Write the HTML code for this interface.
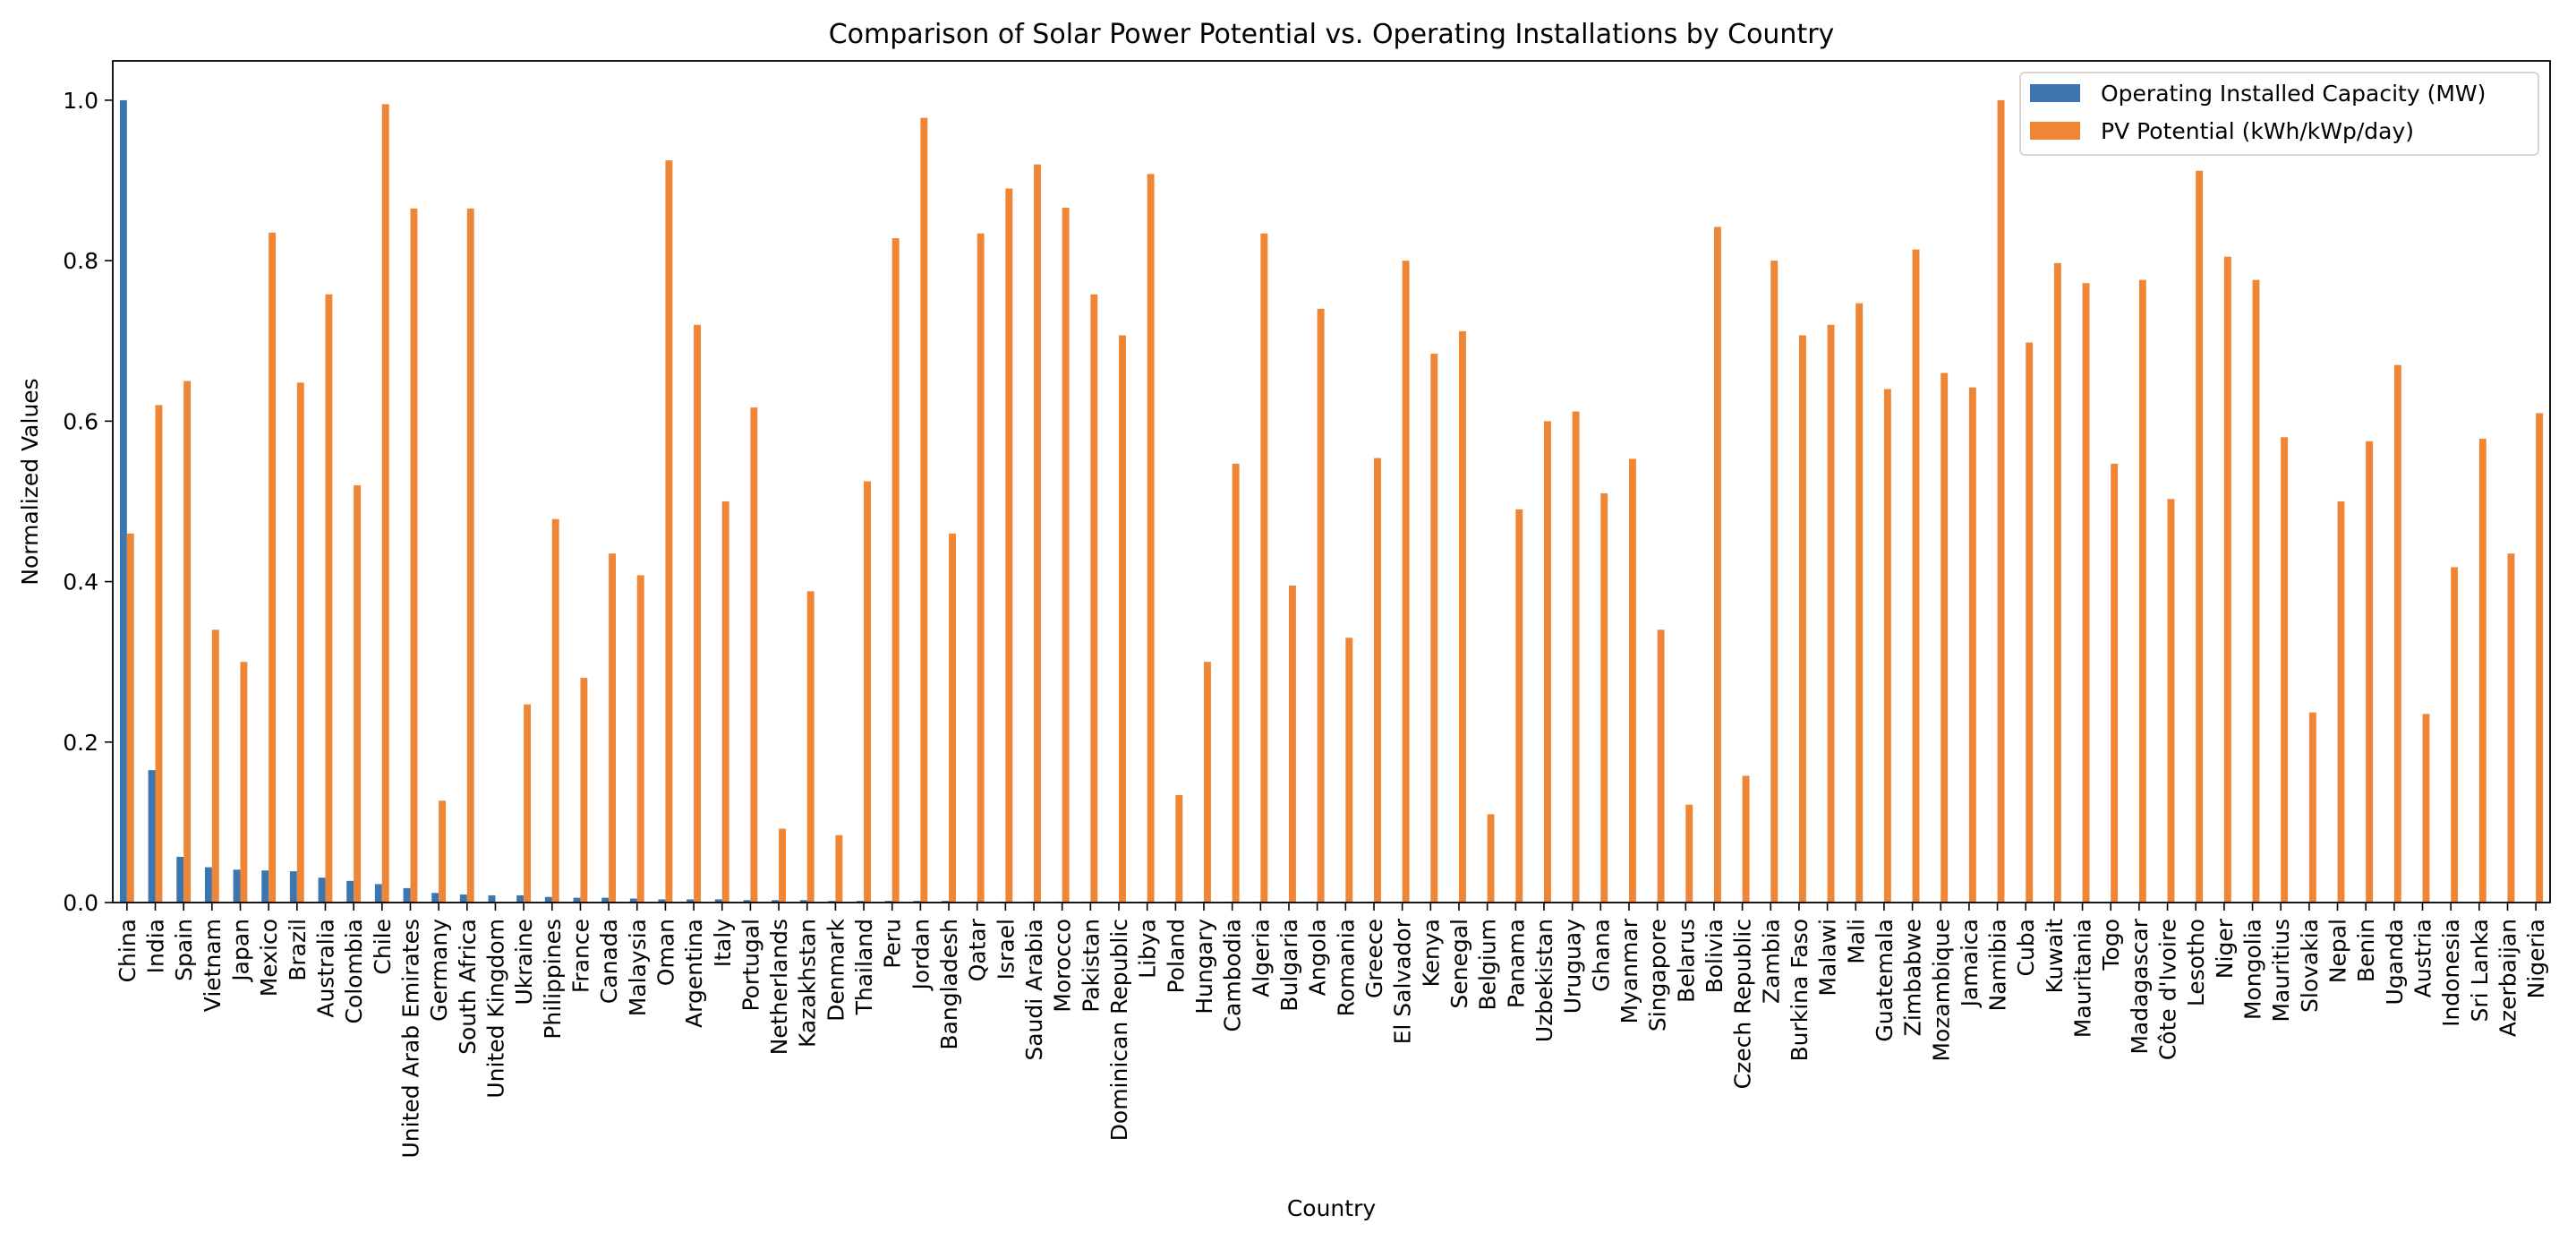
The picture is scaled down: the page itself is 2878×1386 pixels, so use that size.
<!DOCTYPE html>
<html><head><meta charset="utf-8"><style>
html,body{margin:0;padding:0;background:#fff;}
svg{display:block;font-family:"DejaVu Sans","Liberation Sans",sans-serif;}
</style></head><body>
<svg id="chart" width="2878" height="1386" viewBox="0 0 2878 1386" xmlns="http://www.w3.org/2000/svg">
<rect width="2878" height="1386" fill="#fff"/>
<g id="plot"></g>
</svg>
<script>
const categories = ["China","India","Spain","Vietnam","Japan","Mexico","Brazil","Australia","Colombia","Chile","United Arab Emirates","Germany","South Africa","United Kingdom","Ukraine","Philippines","France","Canada","Malaysia","Oman","Argentina","Italy","Portugal","Netherlands","Kazakhstan","Denmark","Thailand","Peru","Jordan","Bangladesh","Qatar","Israel","Saudi Arabia","Morocco","Pakistan","Dominican Republic","Libya","Poland","Hungary","Cambodia","Algeria","Bulgaria","Angola","Romania","Greece","El Salvador","Kenya","Senegal","Belgium","Panama","Uzbekistan","Uruguay","Ghana","Myanmar","Singapore","Belarus","Bolivia","Czech Republic","Zambia","Burkina Faso","Malawi","Mali","Guatemala","Zimbabwe","Mozambique","Jamaica","Namibia","Cuba","Kuwait","Mauritania","Togo","Madagascar","Côte d'Ivoire","Lesotho","Niger","Mongolia","Mauritius","Slovakia","Nepal","Benin","Uganda","Austria","Indonesia","Sri Lanka","Azerbaijan","Nigeria"];
const capacity = [1.0,0.165,0.057,0.044,0.041,0.040,0.039,0.031,0.027,0.023,0.018,0.012,0.010,0.009,0.009,0.007,0.006,0.006,0.005,0.004,0.004,0.004,0.003,0.003,0.003,0.002,0.002,0.002,0.002,0.002,0.001,0.001,0.001,0.001,0.001,0.001,0.001,0.001,0.001,0.001,0.001,0.001,0.001,0.001,0.001,0.001,0.001,0.0005,0.0005,0.0005,0.0005,0.0005,0.0005,0.0005,0.0005,0.0005,0.0005,0.0005,0.0005,0.0005,0.0005,0.0005,0.0005,0.0005,0.0005,0.0005,0.0005,0.0005,0.0005,0.0005,0.0005,0.0005,0.0005,0.0005,0.0005,0.0005,0.0005,0.0005,0.0005,0.0005,0.0005,0.0005,0.0005,0.0005,0.0005,0.0005];
const pvPotential = [0.46,0.62,0.65,0.34,0.30,0.835,0.648,0.758,0.52,0.995,0.865,0.127,0.865,0,0.247,0.478,0.28,0.435,0.408,0.925,0.72,0.50,0.617,0.092,0.388,0.084,0.525,0.828,0.978,0.46,0.834,0.89,0.92,0.866,0.758,0.707,0.908,0.134,0.30,0.547,0.834,0.395,0.74,0.33,0.554,0.80,0.684,0.712,0.11,0.49,0.60,0.612,0.51,0.553,0.34,0.122,0.842,0.158,0.80,0.707,0.72,0.747,0.64,0.814,0.66,0.642,1.0,0.698,0.797,0.772,0.547,0.776,0.503,0.912,0.805,0.776,0.58,0.237,0.50,0.575,0.67,0.235,0.418,0.578,0.435,0.61];
const yTicks = [0.0,0.2,0.4,0.6,0.8,1.0];
const yTickLabels = ["0.0","0.2","0.4","0.6","0.8","1.0"];

const NS="http://www.w3.org/2000/svg";
const L=126,R=2849,T=68,B=1008,YMAX=1.049;
const n=categories.length, step=(R-L)/n;
const xPos=i=>L+(i+0.5)*step;
const yPos=v=>B-(v/YMAX)*(B-T);
const g=document.getElementById('plot');
function mk(tag,attrs){const e=document.createElementNS(NS,tag);for(const k in attrs)e.setAttribute(k,attrs[k]);g.appendChild(e);return e;}
const bw=step*0.25;
categories.forEach((c,i)=>{
  const b1=mk('rect',{x:xPos(i)-bw,y:yPos(capacity[i]),width:bw,height:B-yPos(capacity[i]),fill:'#3d76af'});
  
  
  const b2=mk('rect',{x:xPos(i),y:yPos(pvPotential[i]),width:bw,height:B-yPos(pvPotential[i]),fill:'#ef8636'});
  
  
  const tk=mk('line',{x1:xPos(i),x2:xPos(i),y1:B,y2:B+9,stroke:'#000','stroke-width':1.6});
  
  
  const t=mk('text',{x:0,y:0,transform:`translate(${xPos(i)+9},${B+18}) rotate(-90)`,'text-anchor':'end','font-size':25,fill:'#000'});
  t.textContent=c;
  
  
});
yTicks.forEach((v,i)=>{
  const tk=mk('line',{x1:L-9,x2:L,y1:yPos(v),y2:yPos(v),stroke:'#000','stroke-width':1.6});
  
  
  const t=mk('text',{x:L-16,y:yPos(v)+9,'text-anchor':'end','font-size':25,fill:'#000'});
  t.textContent=yTickLabels[i];
  
  
});
const frame=mk('rect',{x:L,y:T,width:R-L,height:B-T,fill:'none',stroke:'#000','stroke-width':1.8});


const title=mk('text',{x:(L+R)/2,y:48,'text-anchor':'middle','font-size':30,fill:'#000'});
title.textContent='Comparison of Solar Power Potential vs. Operating Installations by Country';


const xl=mk('text',{x:(L+R)/2,y:1358,'text-anchor':'middle','font-size':25,fill:'#000'});
xl.textContent='Country';


const yl=mk('text',{x:0,y:0,transform:`translate(42,${(T+B)/2}) rotate(-90)`,'text-anchor':'middle','font-size':25,fill:'#000'});
yl.textContent='Normalized Values';


const lg=mk('rect',{x:2257,y:81,width:579,height:92,rx:5,fill:'#fff','fill-opacity':0.8,stroke:'#d6d6d6','stroke-width':2});


const lp1=mk('rect',{x:2268,y:94,width:56,height:20,fill:'#3d76af'});


const lt1=mk('text',{x:2347,y:113,'font-size':25,fill:'#000'});
lt1.textContent='Operating Installed Capacity (MW)';


const lp2=mk('rect',{x:2268,y:136,width:56,height:20,fill:'#ef8636'});


const lt2=mk('text',{x:2347,y:155,'font-size':25,fill:'#000'});
lt2.textContent='PV Potential (kWh/kWp/day)';


</script>
</body></html>
